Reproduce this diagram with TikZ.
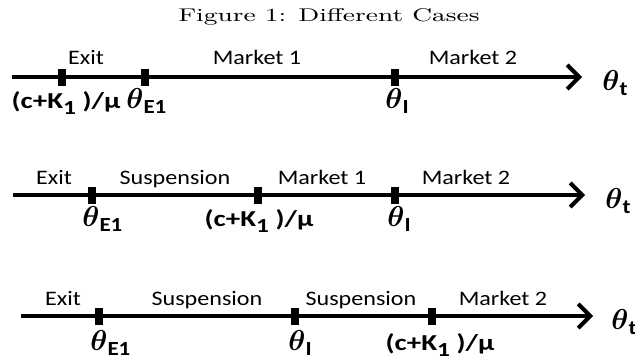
\documentclass[tikz,border=0pt]{standalone}
\usepackage{fontspec}
\usepackage{amsmath,bm}
\usepackage{graphicx}
\newfontfamily\calfont{Carlito}
\usetikzlibrary{arrows.meta}
\newcommand{\lbl}[1]{\scalebox{1.17}[1]{\fontsize{10.3}{12}\calfont #1}}
\newcommand{\bth}[1]{{\fontsize{14}{16}\selectfont$\bm{\theta}$}\raisebox{-2.5pt}{\scalebox{1.15}[1]{\fontsize{10}{12}\calfont\bfseries #1}}}
\newcommand{\ckl}{\scalebox{1.27}[1]{\fontsize{11.4}{13}\calfont\bfseries (c+K\raisebox{-3pt}{\fontsize{10}{12}\selectfont 1} )/μ}}
\begin{document}
\begin{tikzpicture}[x=0.5pt,y=-0.5pt,
  axis/.style={line width=2pt,-{Straight Barb[length=6pt,width=12pt]}},
  mk/.style={fill=black,minimum width=4pt,minimum height=8.5pt,inner sep=0pt},
  up/.style={anchor=base,inner sep=0pt},
  dnw/.style={anchor=base west,inner sep=0pt},
  dnc/.style={anchor=base,inner sep=0pt}]
\useasboundingbox (0,0) rectangle (635,360);
\node[up] (title) at (329,21) {\scalebox{1.45}[1]{\fontsize{9.2}{11}\selectfont Figure 1: Different Cases}};
% Row 1
\coordinate (s1) at (12,77);
\coordinate (e1) at (582,77);
\draw[axis] (s1) -- (e1);
\node[mk] (m1a) at (62,77) {};
\node[mk] (m1b) at (145,77) {};
\node[mk] (m1c) at (395,77) {};
\node[up] (l1a) at (86,64) {\lbl{Exit}};
\node[up] (l1b) at (257,64) {\lbl{Market 1}};
\node[up] (l1c) at (473,64) {\lbl{Market 2}};
\node[dnc] (b1a) at (66,108) {\ckl};
\node[dnw] (b1b) at (126,108) {\bth{E1}};
\node[dnw] (b1c) at (385,108) {\bth{I}};
\node[dnw] (t1) at (602,90) {\bth{t}};
% Row 2
\coordinate (s2) at (13,195);
\coordinate (e2) at (585,195);
\draw[axis] (s2) -- (e2);
\node[mk] (m2a) at (92,195) {};
\node[mk] (m2b) at (258,195) {};
\node[mk] (m2c) at (395,195) {};
\node[up] (l2a) at (54,184) {\lbl{Exit}};
\node[up] (l2b) at (175,184) {\lbl{Suspension}};
\node[up] (l2c) at (322,184) {\lbl{Market 1}};
\node[up] (l2d) at (466,184) {\lbl{Market 2}};
\node[dnw] (b2a) at (82,226) {\bth{E1}};
\node[dnc] (b2b) at (259,226) {\ckl};
\node[dnw] (b2c) at (387,226) {\bth{I}};
\node[dnw] (t2) at (605,208) {\bth{t}};
% Row 3
\coordinate (s3) at (21,316);
\coordinate (e3) at (593,316);
\draw[axis] (s3) -- (e3);
\node[mk] (m3a) at (99,316) {};
\node[mk] (m3b) at (295,316) {};
\node[mk] (m3c) at (432,316) {};
\node[up] (l3a) at (63,305) {\lbl{Exit}};
\node[up] (l3b) at (207,305) {\lbl{Suspension}};
\node[up] (l3c) at (361,305) {\lbl{Suspension}};
\node[up] (l3d) at (503,305) {\lbl{Market 2}};
\node[dnw] (b3a) at (90,350) {\bth{E1}};
\node[dnw] (b3b) at (288,350) {\bth{I}};
\node[dnc] (b3c) at (440,350) {\ckl};
\node[dnw] (t3) at (611,329) {\bth{t}};
\end{tikzpicture}
\end{document}
